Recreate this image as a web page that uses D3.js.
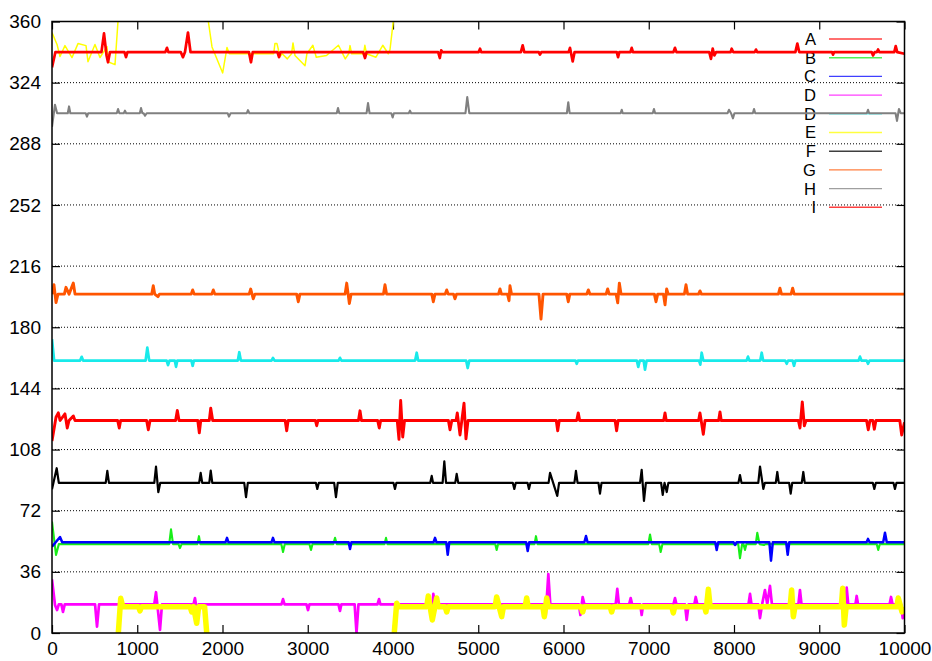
<!DOCTYPE html>
<html>
<head>
<meta charset="utf-8">
<script src="https://cdn.jsdelivr.net/npm/d3@7"></script>
<style>
  html, body { margin: 0; padding: 0; background: #fff; }
  svg { display: block; }
  text { font-family: "Liberation Sans", Arial, Helvetica, sans-serif; }
</style>
</head>
<body>
<svg id="chart" width="932" height="661"></svg>
<script>
// ---- data -------------------------------------------------------------
const xTicks = [0, 1000, 2000, 3000, 4000, 5000, 6000, 7000, 8000, 9000, 10000];
const yTicks = [0, 36, 72, 108, 144, 180, 216, 252, 288, 324, 360];

const seriesNames  = ["A", "B", "C", "D", "D", "E", "F", "G", "H", "I"];
const seriesColors = ["#ff0000", "#18ee18", "#0000ff", "#ff00ff", "#18eaea",
                      "#ffff00", "#000000", "#ff5500", "#808080", "#ff0000"];
const seriesWidths = [2.9, 2.1, 2.5, 2.7, 2.7, 1.6, 2.2, 2.9, 2.1, 2.7];

// A – red, around 125
const seriesA = [[0,113],[47,127],[74,129.6],[95,125.1],[152,129],[165,125.1],[179,120.7],[200,125.1],[250,127.8],[270,125.1],
  [770,125.1],[789,120.7],[805,125.1],[1110,125.1],[1130,119.6],[1150,125.1],
  [1450,125.1],[1470,131],[1490,125.1],[1710,125.1],[1728,117.8],[1745,125.1],[1845,125.1],[1862,132.4],[1885,125.1],
  [2735,125.1],[2753,119],[2770,125.1],[3090,125.1],[3105,122],[3120,125.1],
  [3595,125.1],[3613,130.8],[3630,125.1],[3820,125.1],[3839,120.7],[3855,125.1],
  [4050,125.1],[4070,114],[4090,136.9],[4114,115.4],[4135,125.1],
  [4650,125.1],[4669,119.6],[4690,125.1],[4740,125.1],[4754,129.6],[4786,116.6],[4833,135.3],[4856,114.3],[4880,125.1],
  [5915,125.1],[5932,119],[5950,125.1],[6155,125.1],[6173,129.6],[6190,125.1],
  [6605,125.1],[6623,119],[6640,125.1],[7175,125.1],[7191,129.6],[7205,125.1],
  [7585,125.1],[7601,129.6],[7640,117],[7660,125.1],[7820,125.1],[7836,130.2],[7850,125.1],
  [8755,125.1],[8774,120.7],[8801,136],[8825,122],[8845,125.1],
  [9555,125.1],[9575,119.6],[9595,125.1],[9628,125.1],[9646,120],[9665,125.1],[9945,125.1],[9967,116.6],[10000,124]];

// B – green, around 52
const seriesB = [[0,65.6],[47,46],[80,52.3],[1375,52.3],[1396,61],[1420,52.3],[1485,52.3],[1501,50],[1520,52.3],
  [1705,52.3],[1724,57],[1740,52.3],[2690,52.3],[2710,47.7],[2730,52.3],
  [3020,52.3],[3038,48.9],[3055,52.3],[3300,52.3],[3320,56],[3340,52.3],[3900,52.3],[3918,56],[3935,52.3],
  [5200,52.3],[5216,48.9],[5232,52.3],[5660,52.3],[5677,57],[5695,52.3],
  [6995,52.3],[7015,58],[7035,52.3],[7122,52.3],[7140,47.7],[7160,52.3],
  [8050,52.3],[8070,44],[8095,52.3],[8112,52.3],[8129,48.9],[8145,52.3],[8255,52.3],[8273,59],[8300,52.3],[8352,51.8],[8370,52.3],
  [9675,52.3],[9692,48.9],[9710,52.3],[10000,52.3]];

// C – blue, around 53
const seriesC = [[0,50.8],[94,56.5],[120,53.4],[2035,53.4],[2053,56],[2070,53.4],[2575,53.4],[2592,56],[2610,53.4],
  [3480,53.4],[3496,49.5],[3512,53.4],[4475,53.4],[4493,56],[4510,53.4],[4625,53.4],[4642,46],[4660,53.4],
  [5562,53.4],[5580,48.3],[5598,53.4],[6245,53.4],[6264,57.1],[6282,53.4],
  [7780,53.4],[7797,48.9],[7815,53.4],[7995,53.4],[8012,51.8],[8030,53.4],
  [8415,53.4],[8434,42.6],[8455,53.4],[8612,53.4],[8630,46],[8648,53.4],
  [9555,53.4],[9572,55.4],[9590,53.4],[9750,53.4],[9771,59],[9792,53.4],[10000,53.4]];

// D – magenta, around 17
const seriesD = [[0,31.6],[35,16.5],[59,13.5],[80,16.9],[110,16.9],[129,12.4],[150,16.9],
  [505,16.9],[528,3.7],[552,16.9],[1200,16.9],[1220,24],[1267,1.8],[1290,16.9],
  [1660,16.9],[1677,20.6],[1701,12.4],[1720,16.9],[2692,16.9],[2710,20],[2728,16.9],
  [2985,16.9],[3003,13.5],[3020,16.9],[3360,16.9],[3378,13],[3395,16.9],
  [3550,16.9],[3572,0],[3595,16.9],[3818,16.9],[3836,20],[3852,16.9],
  [4395,16.9],[4414,21.8],[4454,7.7],[4473,23],[4492,16.9],
  [5770,16.9],[5791,10],[5822,34.7],[5845,16.9],[6180,16.9],[6198,10.6],[6225,21.2],[6245,16.9],
  [6612,16.9],[6631,26],[6650,16.9],[6770,16.9],[6788,20.6],[6805,16.9],[6900,16.9],[6917,10.6],[6935,16.9],
  [7290,16.9],[7308,20.6],[7325,16.9],[7425,16.9],[7445,7.7],[7468,16.9],[7535,16.9],[7551,21.2],[7570,16.9],
  [8170,16.9],[8188,23],[8205,16.9],[8285,16.9],[8305,8.8],[8330,16.9],[8363,25.3],[8390,16.9],[8422,27.7],[8445,16.9],
  [8755,16.9],[8774,25.3],[8792,16.9],[9305,16.9],[9322,26.7],[9340,16.9],[9425,16.9],[9439,21.8],[9455,16.9],
  [9825,16.9],[9842,21.2],[9860,16.9],[9960,16.9],[9979,8.8],[10000,12]];

// D – cyan, around 160
const seriesD2 = [[0,173],[25,160.4],[330,160.4],[348,162.6],[365,160.4],[1098,160.4],[1118,168],[1140,160.4],
  [1345,160.4],[1361,157.7],[1378,160.4],[1440,160.4],[1455,156.7],[1470,160.4],[1635,160.4],[1650,157.3],[1665,160.4],
  [2180,160.4],[2197,165.3],[2215,160.4],[2575,160.4],[2592,161.9],[2610,160.4],[3362,160.4],[3378,162],[3395,160.4],
  [4260,160.4],[4278,165],[4295,160.4],[4858,160.4],[4876,156],[4895,160.4],[6140,160.4],[6155,158.5],[6170,160.4],
  [6860,160.4],[6877,156.7],[6895,160.4],[6940,160.4],[6956,155],[6975,160.4],[7590,160.4],[7605,158],[7621,165],[7640,160.4],
  [8148,160.4],[8164,162.7],[8180,160.4],[8308,160.4],[8325,165],[8342,160.4],[8600,160.4],[8618,158.5],[8635,160.4],
  [8688,160.4],[8704,157.3],[8720,160.4],[9462,160.4],[9478,162.7],[9495,160.4],[9556,160.4],[9572,158.5],[9590,160.4],[10000,160.4]];

// E – yellow, wraps between the top and bottom of the range (null = break)
const seriesE = [[0,353.5],[59,346.5],[94,339.4],[152,345.8],[235,338.8],[305,347],[399,345.8],[422,336.3],
  [504,346.5],[563,338.8],[645,345.2],[657,336.3],[739,334.6],[774,360],
  null,
  [778,0],[806,20.4],[830,15.5],[1015,15.5],[1032,13],[1050,15.5],[1620,15.5],[1639,12.4],[1660,15.5],[1697,5.7],
  [1720,15.5],[1790,15.5],[1815,0],
  null,
  [1834,360],[1877,345],[2002,329.7],[2053,344.7],[2080,341],[2600,341],[2615,347],[2639,347],[2675,339.4],[2700,341],
  [2760,338],[2810,341],[2827,347.4],[2850,340],[2968,334],[2990,341],[3060,346],[3100,339],[3220,340],
  [3360,346],[3440,338],[3480,341],[3496,345.8],[3515,341],
  [3655,341],[3670,346],[3690,341],[3800,339],[3880,346],[3945,341],[3965,343.5],[4003,360],
  null,
  [4015,0],[4043,17.5],[4070,15.5],[4395,15.5],[4414,21.8],[4461,7.7],[4512,20.6],[4530,15.5],
  [4612,15.5],[4630,12.4],[4648,15.5],[5198,15.5],[5216,21.2],[5275,9.6],[5295,15.5],
  [5550,15.5],[5568,20.6],[5585,15.5],[5758,15.5],[5775,9.6],[5803,20.6],[5820,15.5],
  [6208,15.5],[6225,12.4],[6242,15.5],[6548,15.5],[6565,12.4],[6582,15.5],[7270,15.5],[7288,11.8],[7305,15.5],
  [7655,15.5],[7671,12.4],[7699,25.7],[7720,15.5],[8658,15.5],[8676,25.3],[8696,9.6],[8715,15.5],
  [9258,15.5],[9275,26.3],[9294,4.7],[9315,15.5],[9910,15.5],[9927,20.6],[9971,12.4],[10000,15]];
// stroke width of each unbroken run of E (the low runs form a dense band)
const seriesEPieceWidths = [1.5, 5.5, 1.5, 5.5];

// F – black, around 88
const seriesF = [[0,84.6],[55,97],[80,88.4],[630,88.4],[649,95.4],[668,88.4],
  [1200,88.4],[1220,98],[1247,82.9],[1270,88.4],[1726,88.4],[1744,94.3],[1762,88.4],[1845,88.4],[1862,95.6],[1880,88.4],
  [2255,88.4],[2276,80],[2297,88.4],[3095,88.4],[3112,84.8],[3130,88.4],[3310,88.4],[3331,80],[3352,88.4],
  [4005,88.4],[4023,84.8],[4040,88.4],[4437,88.4],[4454,92.5],[4470,88.4],[4582,88.4],[4602,101],[4622,88.4],
  [4730,88.4],[4747,93.7],[4765,88.4],[5405,88.4],[5423,84.8],[5440,88.4],[5578,88.4],[5595,84.8],[5612,88.4],
  [5825,88.4],[5842,94.3],[5927,80.7],[5948,88.4],[6128,88.4],[6146,95.4],[6165,88.4],
  [6410,88.4],[6428,82],[6446,88.4],[6898,88.4],[6917,96],[6944,77.8],[6966,88.4],
  [7145,88.4],[7164,81.3],[7185,88.4],[7211,83],[7230,88.4],[8052,88.4],[8070,93],[8088,88.4],
  [8285,88.4],[8305,98],[8344,84.8],[8362,88.4],[8490,88.4],[8508,94.8],[8525,88.4],
  [8647,88.4],[8665,82],[8683,88.4],[8795,88.4],[8813,94.8],[8830,88.4],
  [9628,88.4],[9646,84.8],[9664,88.4],[9870,88.4],[9888,84.8],[9906,88.4],[10000,88.4]];

// G – orange, around 199
const seriesG = [[0,199.5],[23,205],[47,194.5],[70,199.5],[145,199.5],[164,203.5],[200,199.5],[250,206],[270,199.5],
  [1170,199.5],[1188,204.5],[1205,199.5],[1243,198],[1260,199.5],[1633,199.5],[1650,202],[1668,199.5],
  [1875,199.5],[1892,202],[1910,199.5],[2313,199.5],[2331,202.5],[2361,196.7],[2380,199.5],
  [2870,199.5],[2889,195],[2908,199.5],[3438,199.5],[3457,206],[3488,194],[3508,199.5],
  [3888,199.5],[3906,205],[3925,199.5],[4455,199.5],[4473,195],[4492,199.5],[4612,199.5],[4630,202],[4648,199.5],
  [4710,199.5],[4727,196.7],[4745,199.5],[5238,199.5],[5255,202.6],[5272,199.5],[5343,199.5],[5361,195.6],[5372,204.4],[5390,199.5],
  [5712,199.5],[5736,184.8],[5760,199.5],[6038,199.5],[6056,195],[6074,199.5],[6273,199.5],[6291,202],[6310,199.5],
  [6500,199.5],[6518,202.6],[6536,199.5],[6617,199.5],[6636,194.4],[6655,206],[6675,199.5],
  [7066,199.5],[7085,195],[7105,199.5],[7172,199.5],[7191,193.2],[7210,202.6],[7228,199.5],
  [7418,199.5],[7437,205],[7456,199.5],[7584,199.5],[7601,201.4],[7618,199.5],
  [8521,199.5],[8539,203],[8557,199.5],[8670,199.5],[8688,203],[8706,199.5],[10000,199.5]];

// H – gray, around 306
const seriesH = [[0,298],[35,311],[60,306],[185,306],[200,310],[215,306],[395,306],[410,304],[425,306],
  [760,306],[775,308.5],[790,306],[842,306],[856,307.5],[870,306],[1030,306],[1044,309],[1060,306],[1075,306],[1091,304.5],[1110,306],
  [2060,306],[2076,304],[2095,306],[2285,306],[2299,307.8],[2315,306],[3340,306],[3355,309],[3370,306],
  [3690,306],[3707,312],[3725,306],[3980,306],[3996,303.5],[4010,306],[4185,306],[4199,307.5],[4213,306],
  [4850,306],[4871,315.5],[4895,306],[6040,306],[6056,312.5],[6072,306],[6670,306],[6683,308],[6695,306],
  [7047,306],[7061,308.5],[7075,306],[7925,306],[7941,308],[7965,306],[7988,303],[8005,306],
  [8221,306],[8235,308.5],[8249,306],[9558,306],[9572,308],[9586,306],
  [9895,306],[9912,301.5],[9935,308.5],[9955,306],[10000,306]];

// I – red, around 342
const seriesI = [[0,333],[40,342],[580,342],[610,353],[640,340],[657,336],[680,342],
  [850,342],[868,339],[885,342],[1330,342],[1349,344.5],[1365,342],
  [1510,342],[1536,339],[1560,342],[1595,353.5],[1625,342],[2310,342],[2334,336],[2355,342],
  [2645,342],[2663,339],[2680,342],[3650,342],[3672,338.5],[3690,342],
  [4530,342],[4549,338.5],[4565,343],[4580,342],[5005,342],[5021,344],[5035,342],
  [5500,342],[5521,346],[5540,342],[5710,342],[5724,340.5],[5740,342],
  [6060,342],[6076,344.5],[6108,336.5],[6130,342],[6625,342],[6640,339],[6655,342],
  [6785,342],[6800,344.5],[6815,342],[7290,342],[7308,344.5],[7325,342],
  [7710,342],[7730,338],[7750,344],[7770,340],[7790,342],[7960,342],[7973,344],[7990,342],
  [8245,342],[8258,343.5],[8272,342],[8720,342],[8743,347],[8765,342],
  [9150,342],[9161,340.5],[9175,342],[9615,342],[9631,340],[9650,342],[9675,342],[9690,343.5],[9705,342],
  [9880,342],[9897,345.5],[9915,342],[10000,341]];

const seriesValues = [seriesA, seriesB, seriesC, seriesD, seriesD2, seriesE, seriesF, seriesG, seriesH, seriesI];

// ---- layout -----------------------------------------------------------
const svg = d3.select("#chart");
const plotLeft = 52, plotRight = 904.5, plotTop = 21.5, plotBottom = 633;

const x = d3.scaleLinear().domain([0, 10000]).range([plotLeft, plotRight]);
const y = d3.scaleLinear().domain([0, 360]).range([plotBottom, plotTop]);

svg.append("defs").append("clipPath").attr("id", "plotClip")
  .append("rect").attr("x", plotLeft).attr("y", plotTop)
  .attr("width", plotRight - plotLeft).attr("height", plotBottom - plotTop);

// dotted horizontal grid
svg.append("g").selectAll("line")
  .data(yTicks.filter(v => v > 0 && v < 360))
  .join("line")
  .attr("x1", plotLeft).attr("x2", plotRight)
  .attr("y1", d => y(d)).attr("y2", d => y(d))
  .attr("stroke", "#000").attr("stroke-width", 1)
  .attr("stroke-dasharray", "1,2");

// axes: ticks drawn inward on all four sides
const fontSize = 19;
const axL = svg.append("g").attr("transform", `translate(${plotLeft},0)`)
  .call(d3.axisLeft(y).tickValues(yTicks).tickFormat(d3.format("d"))
    .tickSizeInner(-8).tickSizeOuter(0).tickPadding(11));
const axB = svg.append("g").attr("transform", `translate(0,${plotBottom})`)
  .call(d3.axisBottom(x).tickValues(xTicks).tickFormat(d3.format("d"))
    .tickSizeInner(-8).tickSizeOuter(0).tickPadding(9));
const axT = svg.append("g").attr("transform", `translate(0,${plotTop})`)
  .call(d3.axisTop(x).tickValues(xTicks).tickSizeInner(-8).tickSizeOuter(0).tickFormat(""));
const axR = svg.append("g").attr("transform", `translate(${plotRight},0)`)
  .call(d3.axisRight(y).tickValues(yTicks).tickSizeInner(-8).tickSizeOuter(0).tickFormat(""));
[axL, axB, axT, axR].forEach(g => {
  g.select(".domain").remove();
  g.selectAll(".tick line").attr("stroke", "#000").attr("stroke-width", 1.2);
  g.selectAll(".tick text").attr("fill", "#000")
    .style("font-size", fontSize + "px")
    .style("font-family", '"Liberation Sans", Arial, sans-serif');
});

// ---- series with their key entries -------------------------------------
const line = d3.line()
  .defined(d => d !== null)
  .x(d => x(d[0])).y(d => y(d[1]));

// split a series into unbroken runs at its null markers
function runs(vals) {
  const out = [[]];
  vals.forEach(d => { if (d === null) out.push([]); else out[out.length - 1].push(d); });
  return out.filter(r => r.length);
}

const keyRow0 = 39, keyStep = 18.7, keyTextRight = 816, keyX1 = 829, keyX2 = 882;
const keyFont = 16.6;

const plotG = svg.append("g");
seriesValues.forEach((vals, i) => {
  const ky = keyRow0 + i * keyStep;
  plotG.append("text")
    .attr("x", keyTextRight).attr("y", ky + keyFont * 0.36)
    .attr("text-anchor", "end")
    .style("font-size", keyFont + "px")
    .attr("fill", "#000")
    .text(seriesNames[i]);
  plotG.append("line")
    .attr("x1", keyX1).attr("x2", keyX2).attr("y1", ky).attr("y2", ky)
    .attr("stroke", seriesColors[i]).attr("stroke-width", 1.4).attr("opacity", 0.75);
  const pieces = vals === seriesE ? runs(vals) : [vals];
  pieces.forEach((p, k) => {
    plotG.append("path")
      .datum(p)
      .attr("clip-path", "url(#plotClip)")
      .attr("fill", "none")
      .attr("stroke", seriesColors[i])
      .attr("stroke-width", vals === seriesE ? seriesEPieceWidths[k] : seriesWidths[i])
      .attr("stroke-linejoin", "round")
      .attr("d", line);
  });
});

// plot border
svg.append("rect")
  .attr("x", plotLeft).attr("y", plotTop)
  .attr("width", plotRight - plotLeft).attr("height", plotBottom - plotTop)
  .attr("fill", "none").attr("stroke", "#000").attr("stroke-width", 1.5);
</script>
</body>
</html>
